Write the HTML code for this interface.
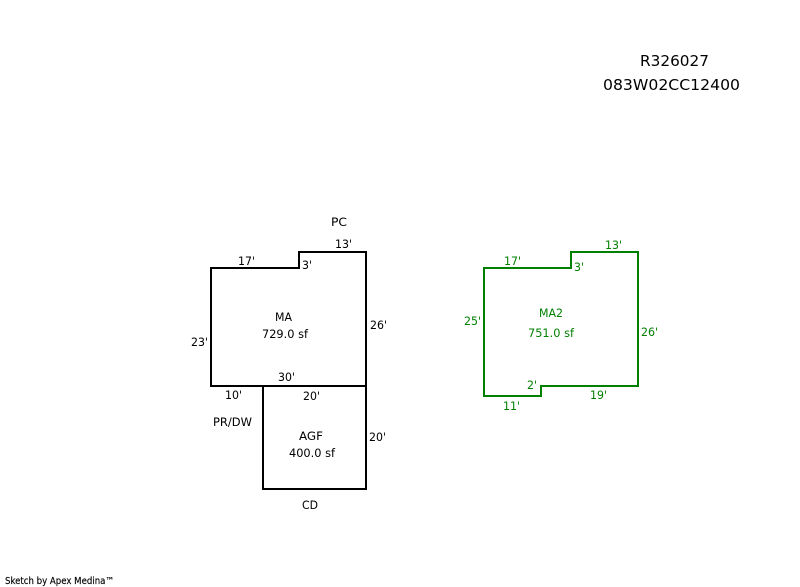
<!DOCTYPE html>
<html><head><meta charset="utf-8"><title>Sketch</title>
<style>
html,body{margin:0;padding:0;background:#fff}
svg{display:block}
text{font-family:"DejaVu Sans","Liberation Sans",sans-serif;font-size:11.5px;fill:#000}
.g text{fill:#008000}
</style></head><body>
<svg width="800" height="587" viewBox="0 0 800 587" xmlns="http://www.w3.org/2000/svg">
<g fill="none" stroke="#000" stroke-width="2" shape-rendering="crispEdges">
<path d="M211 268H299V252H366V386H211Z"/>
<path d="M263 386V489H366V386"/>
</g>
<path d="M484 268H571V252H638V386H541V396H484Z" fill="none" stroke="#008000" stroke-width="2" shape-rendering="crispEdges"/>
<text x="640" y="66" textLength="69" lengthAdjust="spacingAndGlyphs" style="font-size:15px">R326027</text>
<text x="603" y="90" textLength="137" lengthAdjust="spacingAndGlyphs" style="font-size:15px">083W02CC12400</text>
<g>
<text x="331" y="226" textLength="16" lengthAdjust="spacingAndGlyphs">PC</text>
<text x="335" y="248" textLength="17" lengthAdjust="spacingAndGlyphs">13'</text>
<text x="238" y="265" textLength="17" lengthAdjust="spacingAndGlyphs">17'</text>
<text x="302" y="269" textLength="10" lengthAdjust="spacingAndGlyphs">3'</text>
<text x="275" y="321" textLength="17" lengthAdjust="spacingAndGlyphs">MA</text>
<text x="262" y="338" textLength="46" lengthAdjust="spacingAndGlyphs">729.0 sf</text>
<text x="370" y="329" textLength="17" lengthAdjust="spacingAndGlyphs">26'</text>
<text x="191" y="346" textLength="17" lengthAdjust="spacingAndGlyphs">23'</text>
<text x="278" y="381" textLength="17" lengthAdjust="spacingAndGlyphs">30'</text>
<text x="225" y="399" textLength="17" lengthAdjust="spacingAndGlyphs">10'</text>
<text x="303" y="400" textLength="17" lengthAdjust="spacingAndGlyphs">20'</text>
<text x="213" y="426" textLength="39" lengthAdjust="spacingAndGlyphs">PR/DW</text>
<text x="299" y="440" textLength="24" lengthAdjust="spacingAndGlyphs">AGF</text>
<text x="289" y="457" textLength="46" lengthAdjust="spacingAndGlyphs">400.0 sf</text>
<text x="369" y="441" textLength="17" lengthAdjust="spacingAndGlyphs">20'</text>
<text x="302" y="509" textLength="16" lengthAdjust="spacingAndGlyphs">CD</text>
</g>
<g class="g">
<text x="605" y="249" textLength="17" lengthAdjust="spacingAndGlyphs">13'</text>
<text x="504" y="265" textLength="17" lengthAdjust="spacingAndGlyphs">17'</text>
<text x="574" y="271" textLength="10" lengthAdjust="spacingAndGlyphs">3'</text>
<text x="464" y="325" textLength="17" lengthAdjust="spacingAndGlyphs">25'</text>
<text x="539" y="317" textLength="24" lengthAdjust="spacingAndGlyphs">MA2</text>
<text x="528" y="337" textLength="46" lengthAdjust="spacingAndGlyphs">751.0 sf</text>
<text x="641" y="336" textLength="17" lengthAdjust="spacingAndGlyphs">26'</text>
<text x="527" y="389" textLength="10" lengthAdjust="spacingAndGlyphs">2'</text>
<text x="590" y="399" textLength="17" lengthAdjust="spacingAndGlyphs">19'</text>
<text x="503" y="410" textLength="17" lengthAdjust="spacingAndGlyphs">11'</text>
</g>
<text x="5" y="584" textLength="109" lengthAdjust="spacingAndGlyphs" style="font-size:9.5px;stroke:#000;stroke-width:.15px">Sketch by Apex Medina™</text>
</svg>
</body></html>
